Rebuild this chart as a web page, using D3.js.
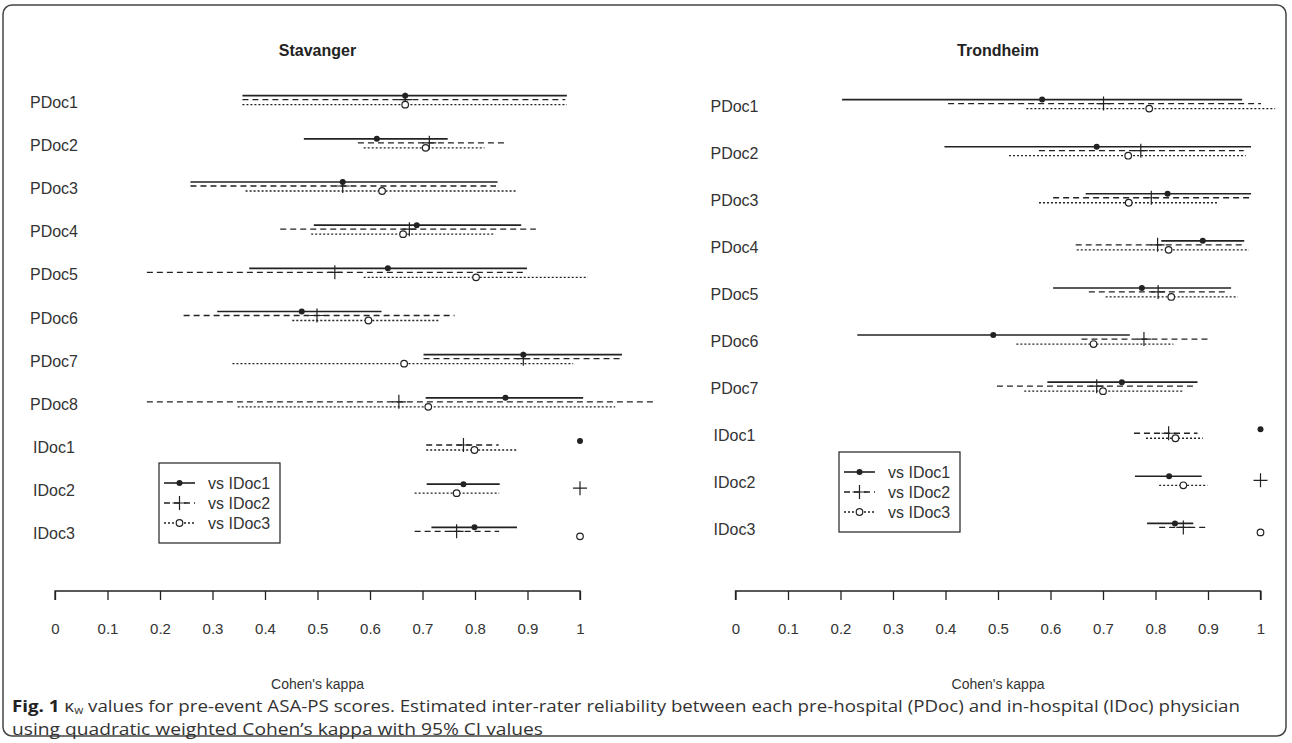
<!DOCTYPE html>
<html>
<head>
<meta charset="utf-8">
<script src="https://cdn.jsdelivr.net/npm/d3@7"></script>
<style>
  body { margin: 0; background: #fff; }
  svg { display: block; font-family: 'Liberation Sans', Arial, sans-serif; }
</style>
</head>
<body>
<svg id="chart" width="1292" height="743"></svg>
<script>
// tick labels
const ticks = [0, 0.1, 0.2, 0.3, 0.4, 0.5, 0.6, 0.7, 0.8, 0.9, 1]
const legendLabels = ['vs IDoc1', 'vs IDoc2', 'vs IDoc3']

// Stavanger
const stavRows = ['PDoc1', 'PDoc2', 'PDoc3', 'PDoc4', 'PDoc5', 'PDoc6', 'PDoc7', 'PDoc8', 'IDoc1', 'IDoc2', 'IDoc3']
const stavEst1 = [0.667, 0.613, 0.548, 0.689, 0.634, 0.470, 0.892, 0.858, 1.0, 0.778, 0.799]
const stavLo1 = [0.357, 0.474, 0.258, 0.493, 0.370, 0.309, 0.702, 0.706, null, 0.708, 0.717]
const stavHi1 = [0.975, 0.748, 0.843, 0.888, 0.899, 0.622, 1.080, 1.006, null, 0.847, 0.880]
const stavEst2 = [0.667, 0.713, 0.548, 0.675, 0.533, 0.499, 0.892, 0.655, 0.778, 1.0, 0.765]
const stavLo2 = [0.357, 0.577, 0.258, 0.429, 0.175, 0.245, 0.702, 0.175, 0.707, null, 0.685]
const stavHi2 = [0.972, 0.856, 0.840, 0.916, 0.896, 0.761, 1.080, 1.139, 0.845, null, 0.846]
const stavEst3 = [0.667, 0.706, 0.623, 0.663, 0.802, 0.597, 0.665, 0.711, 0.799, 0.765, 1.0]
const stavLo3 = [0.357, 0.588, 0.363, 0.488, 0.588, 0.452, 0.338, 0.348, 0.707, 0.685, null]
const stavHi3 = [0.975, 0.818, 0.879, 0.835, 1.015, 0.734, 0.987, 1.067, 0.880, 0.846, null]

// Trondheim
const trondRows = ['PDoc1', 'PDoc2', 'PDoc3', 'PDoc4', 'PDoc5', 'PDoc6', 'PDoc7', 'IDoc1', 'IDoc2', 'IDoc3']
const trondEst1 = [0.584, 0.688, 0.823, 0.890, 0.774, 0.491, 0.736, 1.0, 0.826, 0.837]
const trondLo1 = [0.203, 0.398, 0.667, 0.811, 0.605, 0.232, 0.594, null, 0.761, 0.784]
const trondHi1 = [0.965, 0.982, 0.982, 0.969, 0.944, 0.751, 0.880, null, 0.888, 0.872]
const trondEst2 = [0.701, 0.772, 0.792, 0.804, 0.805, 0.778, 0.688, 0.825, 1.0, 0.853]
const trondLo2 = [0.405, 0.578, 0.605, 0.648, 0.673, 0.659, 0.498, 0.759, null, 0.807]
const trondHi2 = [1.001, 0.968, 0.982, 0.969, 0.932, 0.901, 0.872, 0.880, null, 0.897]
const trondEst3 = [0.788, 0.748, 0.749, 0.825, 0.830, 0.682, 0.700, 0.838, 0.853, 1.0]
const trondLo3 = [0.554, 0.521, 0.578, 0.650, 0.705, 0.535, 0.550, 0.782, 0.807, null]
const trondHi3 = [1.028, 0.972, 0.917, 0.978, 0.957, 0.834, 0.851, 0.890, 0.899, null]

const ink = '#222'
const dashes = [null, '6,4', '2,2']
const offsets = [-6.5, -2.5, 2.5]

const svg = d3.select('#chart')

// outer frame
svg.append('rect').attr('x', 3).attr('y', 5).attr('width', 1283).attr('height', 731)
  .attr('rx', 9).attr('fill', 'none').attr('stroke', '#444').attr('stroke-width', 1.5)

function drawMarker(g, type, cx, cy) {
  if (type === 0) {
    g.append('circle').attr('cx', cx).attr('cy', cy).attr('r', 3).attr('fill', ink)
  } else if (type === 1) {
    g.append('path').attr('d', `M${cx - 7},${cy}H${cx + 7}M${cx},${cy - 7}V${cy + 7}`)
      .attr('stroke', ink).attr('stroke-width', 1.2).attr('fill', 'none')
  } else {
    g.append('circle').attr('cx', cx).attr('cy', cy).attr('r', 3.3)
      .attr('fill', '#fff').attr('stroke', ink).attr('stroke-width', 1.2)
  }
}

function panel(opts) {
  const { x0, title, rows, series, legend } = opts
  const n = rows.length
  const x = d3.scaleLinear().domain([0, 1]).range([x0, x0 + 525])
  const y = d3.scaleLinear().domain([0, n + 1]).range([59, 577])
  const g = svg.append('g')

  g.append('text').attr('x', x(0.5)).attr('y', 56).attr('text-anchor', 'middle')
    .attr('font-weight', 'bold').attr('font-size', 16).attr('fill', ink).text(title)

  // row labels, centred on x = 0 like R's text()
  rows.forEach((r, i) => {
    g.append('text').attr('x', x(0) - 1).attr('y', y(i + 1) + 5.5).attr('text-anchor', 'middle')
      .attr('font-size', 16).attr('fill', '#333').text(r)
  })

  series.forEach((s, k) => {
    rows.forEach((r, i) => {
      const cy = y(i + 1) + offsets[k]
      if (s.lo[i] != null) {
        g.append('line').attr('x1', x(s.lo[i])).attr('x2', x(s.hi[i]))
          .attr('y1', cy).attr('y2', cy)
          .attr('stroke', ink).attr('stroke-width', k === 0 ? 1.6 : 1.3)
          .attr('stroke-dasharray', dashes[k])
      }
      drawMarker(g, k, x(s.est[i]), cy)
    })
  })

  // axis
  const axis = d3.axisBottom(x).tickValues(ticks).tickSize(9).tickFormat(d3.format('~g'))
  const ag = g.append('g').attr('transform', 'translate(0,591)').call(axis)
  ag.select('.domain').attr('d', `M${x(0)},9V0H${x(1)}V9`).attr('stroke', ink).attr('stroke-width', 1.3)
  ag.selectAll('.tick line').attr('stroke', ink).attr('stroke-width', 1.3)
  ag.selectAll('.tick text').attr('y', 32).attr('font-size', 15).attr('fill', '#333')
    .attr('font-family', "'Liberation Sans', Arial, sans-serif")

  g.append('text').attr('x', x(0.5)).attr('y', 689).attr('text-anchor', 'middle')
    .attr('font-size', 14).attr('fill', '#333').text("Cohen's kappa")

  // legend
  const lg = g.append('g').attr('transform', `translate(${legend[0]},${legend[1]})`)
  lg.append('rect').attr('width', 121).attr('height', 80).attr('fill', '#fff')
    .attr('stroke', ink).attr('stroke-width', 1.2)
  legendLabels.forEach((t, k) => {
    const ly = 20 + k * 20
    lg.append('line').attr('x1', 5).attr('x2', 36).attr('y1', ly).attr('y2', ly)
      .attr('stroke', ink).attr('stroke-width', k === 0 ? 1.6 : 1.3).attr('stroke-dasharray', dashes[k])
    drawMarker(lg, k, 20.5, ly)
    lg.append('text').attr('x', 49).attr('y', ly + 5.5).attr('font-size', 16).attr('fill', '#333').text(t)
  })
}

panel({
  x0: 55, title: 'Stavanger', rows: stavRows, legend: [159, 463],
  series: [
    { est: stavEst1, lo: stavLo1, hi: stavHi1 },
    { est: stavEst2, lo: stavLo2, hi: stavHi2 },
    { est: stavEst3, lo: stavLo3, hi: stavHi3 }
  ]
})
panel({
  x0: 735.5, title: 'Trondheim', rows: trondRows, legend: [839, 452],
  series: [
    { est: trondEst1, lo: trondLo1, hi: trondHi1 },
    { est: trondEst2, lo: trondLo2, hi: trondHi2 },
    { est: trondEst3, lo: trondLo3, hi: trondHi3 }
  ]
})

// caption
const cap = svg.append('text').attr('x', 12).attr('y', 712)
  .attr('font-family', "'Open Sans', sans-serif").attr('font-size', 16).attr('fill', '#333')
  .attr('textLength', 1228).attr('lengthAdjust', 'spacingAndGlyphs')
cap.append('tspan').attr('font-weight', 'bold').attr('fill', '#222').text('Fig. 1')
cap.append('tspan').text(' \u03ba')
cap.append('tspan').attr('font-size', 10).attr('dy', 2).text('w')
cap.append('tspan').attr('dy', -2).text(' values for pre-event ASA-PS scores. Estimated inter-rater reliability between each pre-hospital (PDoc) and in-hospital (IDoc) physician')
svg.append('text').attr('x', 12).attr('y', 735)
  .attr('font-family', "'Open Sans', sans-serif").attr('font-size', 16).attr('fill', '#333')
  .attr('textLength', 531).attr('lengthAdjust', 'spacingAndGlyphs')
  .text('using quadratic weighted Cohen\u2019s kappa with 95% CI values')
</script>
</body>
</html>
